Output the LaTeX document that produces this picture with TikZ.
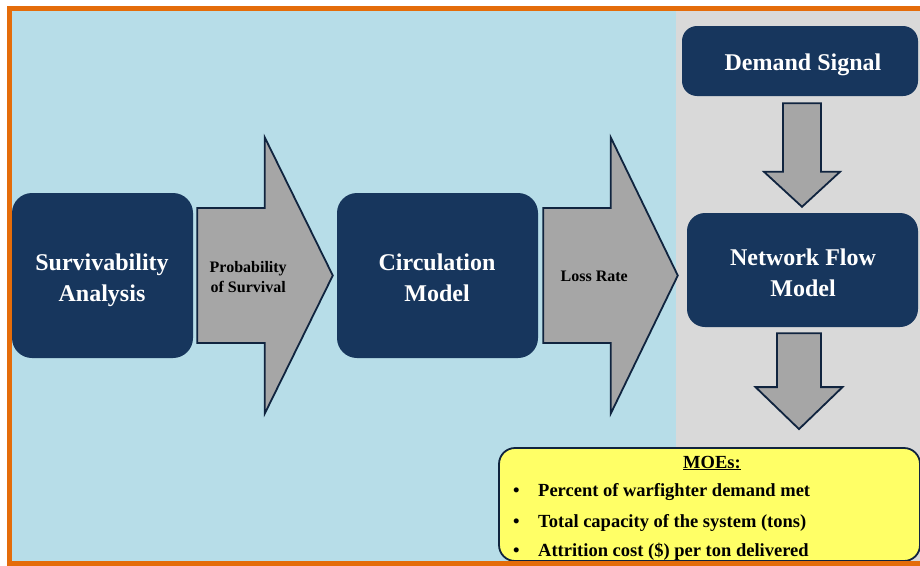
\documentclass[tikz,border=0pt]{standalone}
\usepackage{fontspec}
\setmainfont{Liberation Serif}
\usetikzlibrary{calc}

\definecolor{panelblue}{HTML}{B7DDE8}
\definecolor{panelgray}{HTML}{D9D9D9}
\definecolor{frameorange}{HTML}{E46C0A}
\definecolor{navy}{HTML}{17365D}
\definecolor{arrowgray}{HTML}{A6A6A6}
\definecolor{arrowline}{HTML}{10243F}
\definecolor{moeyellow}{HTML}{FFFF66}

\tikzset{
  modelbox/.style={rectangle, rounded corners=20pt, fill=navy, inner sep=0pt},
  boxtext/.style={text=white, font=\bfseries\fontsize{24}{31}\selectfont, align=center, inner sep=0pt},
  blockarrow/.style={fill=arrowgray, draw=arrowline, line width=1.8pt, line join=miter},
  arrowlabel/.style={font=\bfseries\fontsize{16}{20}\selectfont, align=center, text=black, inner sep=0pt},
  moebox/.style={rectangle, rounded corners=16pt, fill=moeyellow, draw=arrowline, line width=1.8pt},
  moeline/.style={font=\bfseries\fontsize{18.5}{22}\selectfont, anchor=west, inner sep=0pt, text=black}
}

% block arrow pointing right: #1 tail point, #2 tip point, #3 shaft half height,
% #4 head half height, #5 head length
\newcommand\blockright[5]{%
  \draw[blockarrow] let \p1=(#1), \p2=(#2) in
    (\x1,\y1+#3) -- (\x2-#5,\y1+#3) -- (\x2-#5,\y1+#4) -- (\x2,\y1)
    -- (\x2-#5,\y1-#4) -- (\x2-#5,\y1-#3) -- (\x1,\y1-#3) -- cycle;}

% block arrow pointing down: #1 tail point, #2 tip point, #3 shaft half width,
% #4 head half width, #5 head length
\newcommand\blockdown[5]{%
  \draw[blockarrow] let \p1=(#1), \p2=(#2) in
    (\x1-#3,\y1) -- (\x1-#3,\y2+#5) -- (\x1-#4,\y2+#5) -- (\x1,\y2)
    -- (\x1+#4,\y2+#5) -- (\x1+#3,\y2+#5) -- (\x1+#3,\y1) -- cycle;}

\begin{document}
\begin{tikzpicture}[x=1pt,y=-1pt]
\useasboundingbox (0,0) rectangle (920,565);

% background panels
\fill[panelblue] (12,11) rectangle (676,561);
\fill[panelgray] (676,11) rectangle (920,561);

% model boxes
\node[modelbox, minimum width=181pt, minimum height=165pt] (surv) at (102.5,275.5) {};
\node[boxtext] (survt) at (102,280.5) {Survivability\\Analysis};
\node[modelbox, minimum width=201pt, minimum height=165pt] (circ) at (437.5,275.5) {};
\node[boxtext] (circt) at (437,278) {Circulation\\Model};
\node[modelbox, rounded corners=15pt, minimum width=236pt, minimum height=70pt] (demand) at (800,61) {};
\node[boxtext] (demandt) at (803,65) {Demand Signal};
\node[modelbox, rounded corners=18pt, minimum width=231pt, minimum height=114pt] (netw) at (802.5,270) {};
\node[boxtext] (netwt) at (803,272.5) {Network Flow\\Model};

% measures of effectiveness
\node[moebox, minimum width=421pt, minimum height=113pt] (moe) at (709.5,504.5) {};
\node[moeline, anchor=center] (m0) at (712,463) {\underline{MOEs:}};
\node[moeline] (b1) at (513,492.5) {\textbullet};
\node[moeline] (m1) at (538,492.5) {Percent of warfighter demand met};
\node[moeline] (b2) at (513,523) {\textbullet};
\node[moeline] (m2) at (538,523) {Total capacity of the system (tons)};
\node[moeline] (b3) at (513,552) {\textbullet};
\node[moeline] (m3) at (538,552) {Attrition cost (\$) per ton delivered};

% flow arrows
\blockright{$(surv.east)+(4,0)$}{$(circ.west)+(-4,0)$}{67.5pt}{138pt}{68pt}
\node[arrowlabel] (pos) at ($(surv.east)+(55,1.5)$) {Probability\\of Survival};

\blockright{$(circ.east)+(5,0)$}{$(netw.west)+(-9,5.5)$}{67.5pt}{138pt}{67pt}
\node[arrowlabel] (loss) at ($(circ.east)+(56,0.5)$) {Loss Rate};

\blockdown{$(demand.south)+(2,7)$}{$(netw.north)+(0,-6)$}{19pt}{38pt}{35pt}
\blockdown{$(netw.south)+(-3.5,6)$}{$(moe.north)+(0,-18)$}{22pt}{43.5pt}{42pt}

% outer frame
\draw[frameorange, line width=5pt] (9.5,8.5) rectangle (940,563.5);
\end{tikzpicture}
\end{document}
